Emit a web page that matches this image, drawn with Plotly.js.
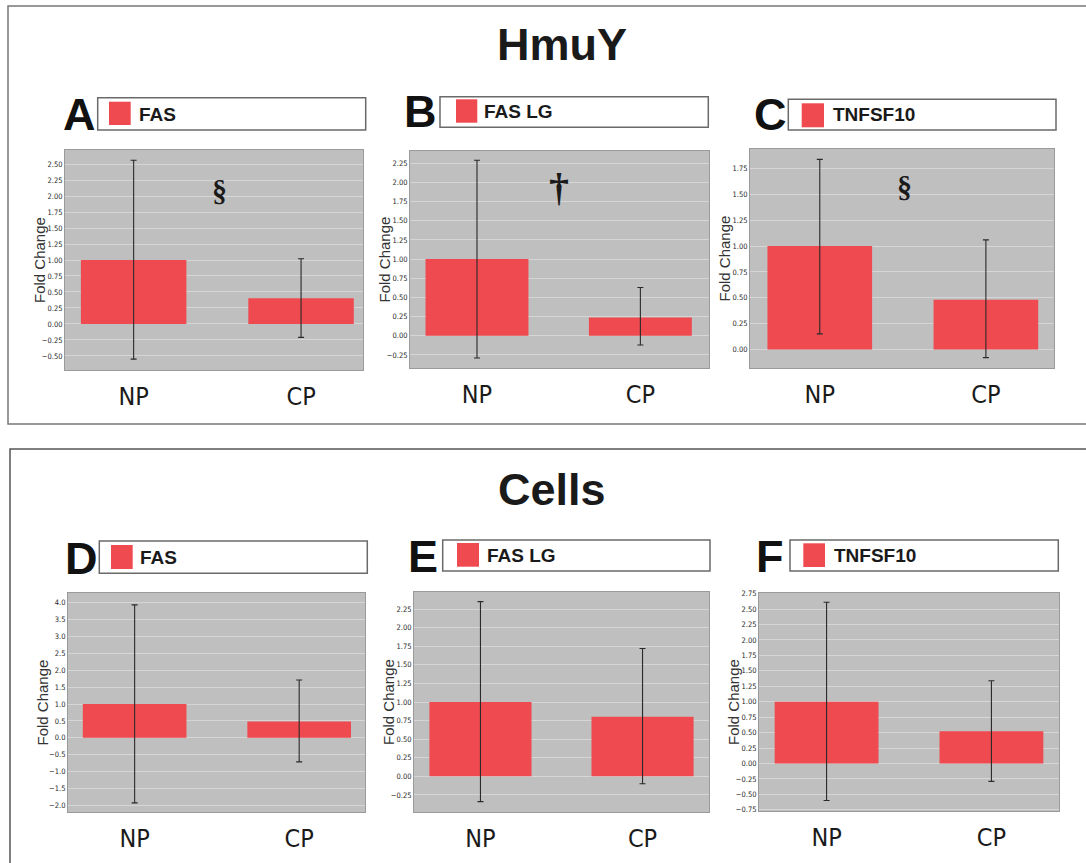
<!DOCTYPE html>
<html>
<head>
<meta charset="utf-8">
<script src="https://cdn.plot.ly/plotly-3.0.1.min.js"></script>
<style>
  html, body { margin: 0; padding: 0; background: #ffffff; }
  #chart { width: 1086px; height: 863px; }
</style>
</head>
<body>
<div id="chart"></div>
<script>
// ---------------- DATA ----------------
const groups = ['NP', 'CP'];
const sectionTitles = ['HmuY', 'Cells'];
const panelLetters = ['A', 'B', 'C', 'D', 'E', 'F'];
const geneNames = ['FAS', 'FAS LG', 'TNFSF10', 'FAS', 'FAS LG', 'TNFSF10'];
const sigMarks = ['§', '†', '§', '', '', ''];
const yAxisLabel = 'Fold Change';

// fold change (bar height), upper and lower ends of error bars
const meanA = [1.00, 0.40];  const upperA = [2.56, 1.02];  const lowerA = [-0.55, -0.21];
const meanB = [1.00, 0.24];  const upperB = [2.29, 0.63];  const lowerB = [-0.29, -0.12];
const meanC = [1.00, 0.48];  const upperC = [1.84, 1.06];  const lowerC = [0.15, -0.08];
const meanD = [1.00, 0.48];  const upperD = [3.93, 1.71];  const lowerD = [-1.92, -0.71];
const meanE = [1.00, 0.80];  const upperE = [2.35, 1.72];  const lowerE = [-0.34, -0.10];
const meanF = [1.00, 0.52];  const upperF = [2.61, 1.34];  const lowerF = [-0.60, -0.29];

const means  = [meanA, meanB, meanC, meanD, meanE, meanF];
const uppers = [upperA, upperB, upperC, upperD, upperE, upperF];
const lowers = [lowerA, lowerB, lowerC, lowerD, lowerE, lowerF];

// ---------------- GEOMETRY / STYLE ----------------
const W = 1086, H = 863;
const px = v => v / W;
const py = v => 1 - v / H;

// plot areas in pixels [x0, y0, x1, y1]
const plotBoxes = [
  [65, 150, 363, 370],
  [410, 151, 709, 368],
  [750, 149, 1054, 368],
  [68, 593, 365, 812],
  [414, 592, 709, 812],
  [759, 593, 1059, 811]
];
const xRanges = [[-0.41, 1.37], [-0.41, 1.42], [-0.42, 1.41], [-0.405, 1.40], [-0.41, 1.41], [-0.41, 1.41]];
const yRanges = [[-0.72, 2.72], [-0.42, 2.41], [-0.18, 1.94], [-2.19, 4.28], [-0.48, 2.48], [-0.77, 2.76]];
const yDticks = [0.25, 0.25, 0.25, 0.5, 0.25, 0.25];
const yFormats = ['.2f', '.2f', '.2f', '.1f', '.2f', '.2f'];

const legendBoxes = [
  [97.7, 97.7, 365.7, 130], [440, 96.7, 708.3, 127.3], [788.3, 99.3, 1056, 130],
  [99.3, 541, 367.3, 573.3], [442.7, 540, 710, 571], [790, 540, 1058.3, 571]
];
const legendSquares = [
  [109, 101.7, 130.7, 125], [456, 99.3, 477.3, 122.7], [801.7, 103.3, 824, 127.3],
  [111, 545, 132.7, 569], [457, 543, 479, 566.7], [803.3, 543.3, 825, 567]
];
const legendTextPos = [[136.7, 114], [481.7, 112], [831, 115], [138.3, 557], [485, 555], [832, 555]];
const letterPos = [[79, 114], [420.5, 112], [770, 114], [81, 558], [422.5, 556], [770, 556]];
const sigPos = [[0.51, 2.09], [0.50, 1.93], [0.51, 1.58], null, null, null];
const sigSize = [30, 40, 30, 0, 0, 0];

const RED = '#ef4a4f';
const narrow = '"Liberation Sans Narrow", "Arial Narrow", "DejaVu Sans Condensed", sans-serif';
const sans = '"Liberation Sans", Arial, Helvetica, sans-serif';
const serif = '"Liberation Serif", "Times New Roman", serif';

const traces = [];
const layout = {
  width: W, height: H,
  margin: {l: 0, r: 0, t: 0, b: 0},
  paper_bgcolor: '#ffffff',
  plot_bgcolor: '#bfbfbf',
  showlegend: false,
  shapes: [],
  annotations: []
};

// outer section frames
layout.shapes.push({type: 'rect', xref: 'paper', yref: 'paper', x0: px(8), x1: px(1095), y0: py(6), y1: py(424),
  line: {color: '#777777', width: 1.5}, fillcolor: 'rgba(0,0,0,0)', layer: 'below'});
layout.shapes.push({type: 'rect', xref: 'paper', yref: 'paper', x0: px(10), x1: px(1095), y0: py(449), y1: py(875),
  line: {color: '#555555', width: 1.5}, fillcolor: 'rgba(0,0,0,0)', layer: 'below'});

// section titles
const titlePos = [[562, 44], [552, 490]];
sectionTitles.forEach((t, i) => {
  layout.annotations.push({text: t, xref: 'paper', yref: 'paper', x: px(titlePos[i][0]), y: py(titlePos[i][1]),
    xanchor: 'center', yanchor: 'middle', showarrow: false,
    font: {family: sans, size: 45, color: '#1a1a1a', weight: 'bold'}});
});

for (let i = 0; i < 6; i++) {
  const n = i === 0 ? '' : String(i + 1);
  const xa = 'x' + n, ya = 'y' + n;
  const box = plotBoxes[i];
  const errPlus = uppers[i].map((u, k) => u - means[i][k]);
  const errMinus = lowers[i].map((l, k) => means[i][k] - l);

  traces.push({
    type: 'bar', x: groups, y: means[i], xaxis: xa, yaxis: ya,
    name: geneNames[i], width: 0.63,
    marker: {color: RED, line: {width: 0}},
    error_y: {type: 'data', symmetric: false, array: errPlus, arrayminus: errMinus,
      color: '#2a2a2a', thickness: 1.1, width: 3}
  });

  layout['xaxis' + n] = {
    domain: [px(box[0]), px(box[2])], anchor: ya,
    type: 'category', range: xRanges[i],
    showgrid: false, zeroline: false, ticks: '',
    showline: true, linecolor: '#9a9a9a', linewidth: 1, mirror: true,
    tickfont: {family: narrow, size: 25, color: '#1a1a1a'},
    ticklabelstandoff: 4, fixedrange: true
  };
  layout['yaxis' + n] = {
    domain: [py(box[3]), py(box[1])], anchor: xa,
    range: yRanges[i], dtick: yDticks[i], tick0: 0, tickformat: yFormats[i],
    showgrid: true, gridcolor: '#d6d6d6', gridwidth: 1,
    zeroline: false, ticks: '',
    showline: true, linecolor: '#9a9a9a', linewidth: 1, mirror: true,
    tickfont: {family: narrow, size: 7.5, color: '#2a2a2a'},
    fixedrange: true
  };

  // y-axis title placed close to the tick labels
  layout.annotations.push({text: yAxisLabel, xref: 'paper', yref: 'paper',
    x: px(box[0] - 26), y: py((box[1] + box[3]) / 2), textangle: -90,
    xanchor: 'center', yanchor: 'middle', showarrow: false,
    font: {family: sans, size: 15, color: '#333333'}});

  // legend box
  const lb = legendBoxes[i], sq = legendSquares[i];
  layout.shapes.push({type: 'rect', xref: 'paper', yref: 'paper', x0: px(lb[0]), x1: px(lb[2]), y0: py(lb[3]), y1: py(lb[1]),
    line: {color: '#6a6a6a', width: 1.5}, fillcolor: '#ffffff'});
  layout.shapes.push({type: 'rect', xref: 'paper', yref: 'paper', x0: px(sq[0]), x1: px(sq[2]), y0: py(sq[3]), y1: py(sq[1]),
    line: {width: 0}, fillcolor: RED});
  layout.annotations.push({text: geneNames[i], xref: 'paper', yref: 'paper',
    x: px(legendTextPos[i][0]), y: py(legendTextPos[i][1]), xanchor: 'left', yanchor: 'middle', showarrow: false,
    font: {family: sans, size: 19, color: '#1a1a1a', weight: 'bold'}});
  // panel letter
  layout.annotations.push({text: panelLetters[i], xref: 'paper', yref: 'paper',
    x: px(letterPos[i][0]), y: py(letterPos[i][1]), xanchor: 'center', yanchor: 'middle', showarrow: false,
    font: {family: sans, size: 45, color: '#111111', weight: 'bold'}});
  // significance mark
  if (sigMarks[i]) {
    layout.annotations.push({text: sigMarks[i], xref: xa, yref: ya, x: sigPos[i][0], y: sigPos[i][1],
      xanchor: 'center', yanchor: 'middle', showarrow: false,
      font: {family: serif, size: sigSize[i], color: '#1a1a1a', weight: 'bold'}});
  }
}

Plotly.newPlot('chart', traces, layout, {staticPlot: true, displayModeBar: false});
</script>
</body>
</html>
